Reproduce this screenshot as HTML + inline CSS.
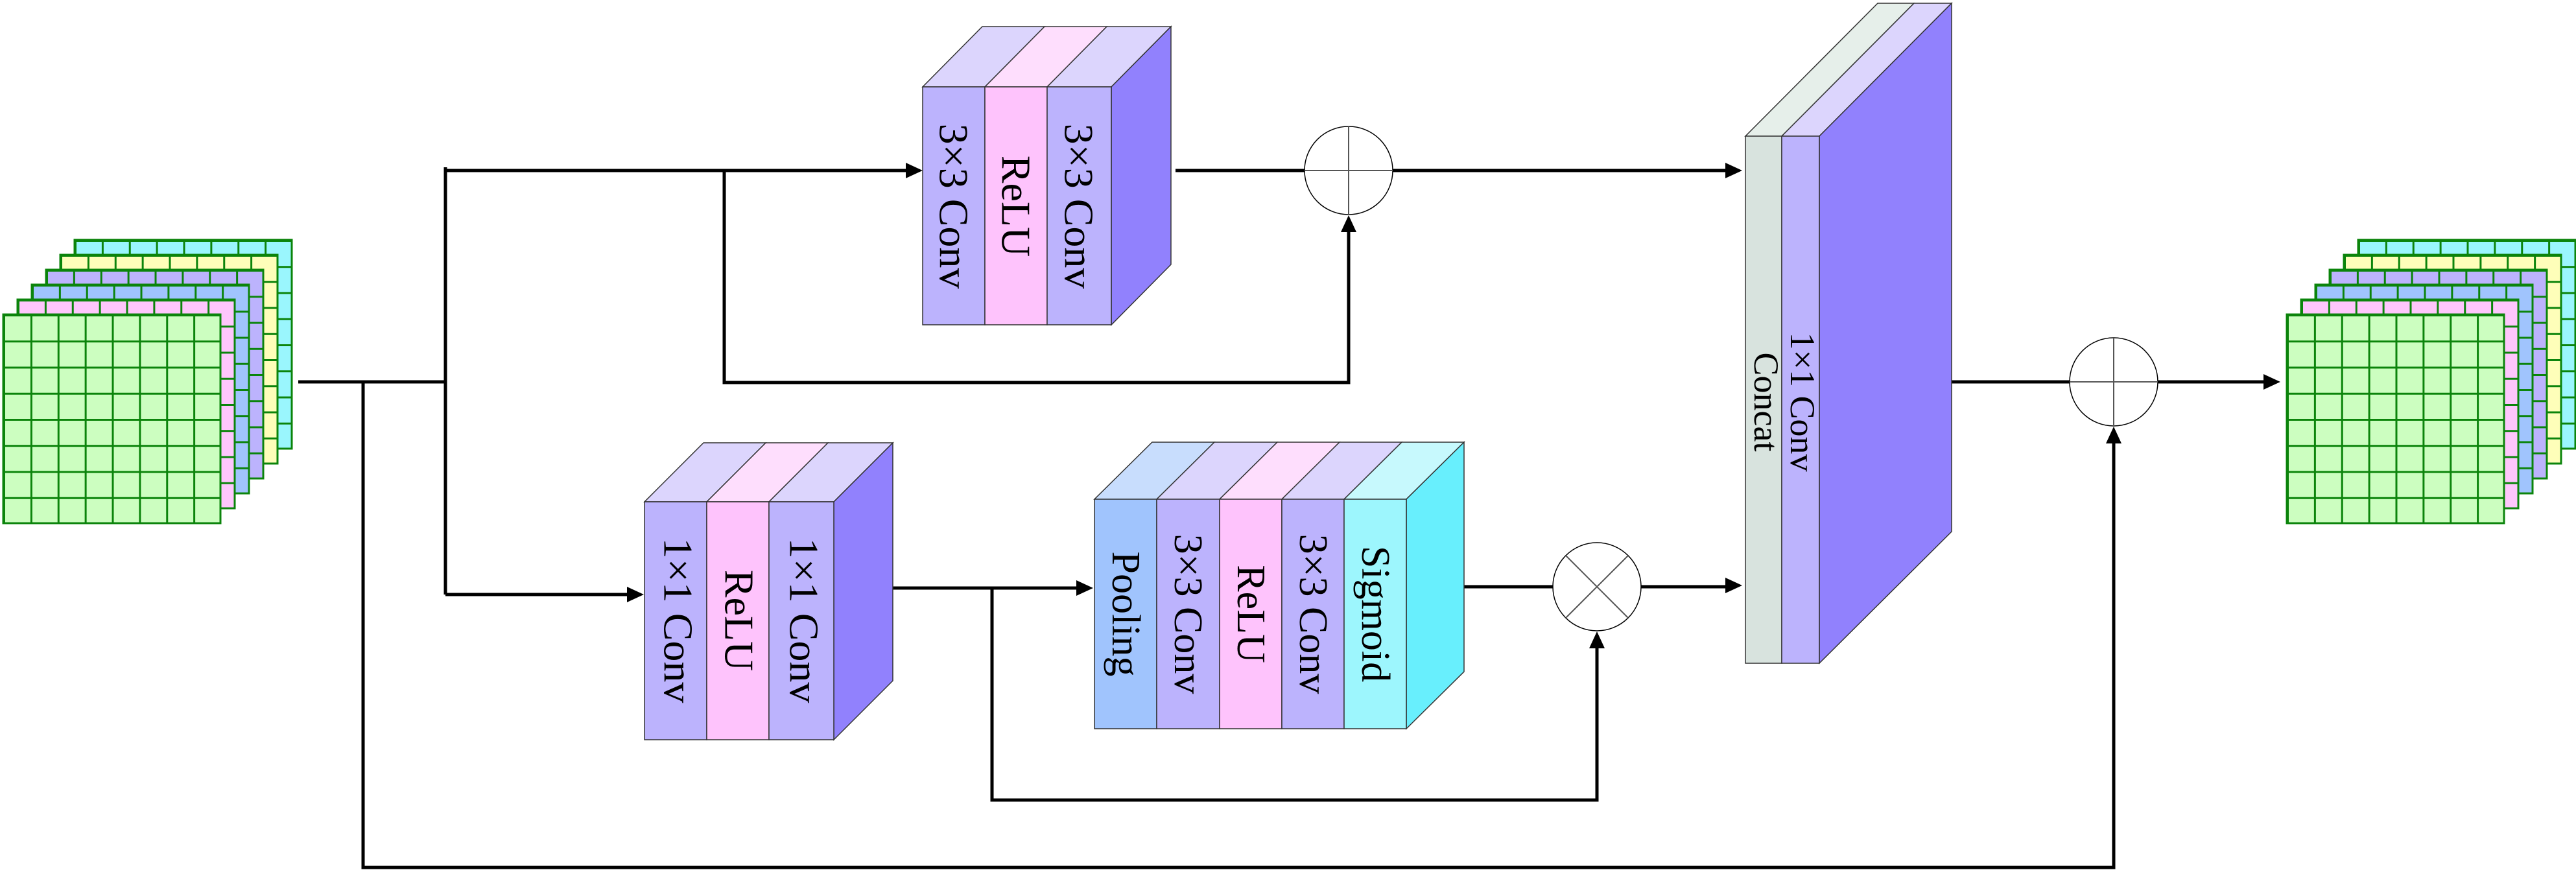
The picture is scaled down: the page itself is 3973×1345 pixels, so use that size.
<!DOCTYPE html>
<html><head><meta charset="utf-8"><style>html,body{margin:0;padding:0;background:#fff}svg{display:block}</style></head>
<body>
<svg width="3973" height="1345" viewBox="0 0 3973 1345" xmlns="http://www.w3.org/2000/svg" font-family="'Liberation Serif', serif">
<defs>
<pattern id="gr" width="41.875" height="40.25" patternUnits="userSpaceOnUse"><path d="M0 0H41.875M0 0V40.25" stroke="#0b840b" stroke-width="6" fill="none"/></pattern>
<g id="stack">
 <g transform="translate(110,-115)"><rect width="335" height="322" fill="#9af6fd"/><rect width="335" height="322" fill="url(#gr)"/><rect width="335" height="322" fill="none" stroke="#0b840b" stroke-width="3"/></g>
 <g transform="translate(88,-92)"><rect width="335" height="322" fill="#fefeb9"/><rect width="335" height="322" fill="url(#gr)"/><rect width="335" height="322" fill="none" stroke="#0b840b" stroke-width="3"/></g>
 <g transform="translate(66,-69)"><rect width="335" height="322" fill="#bcb3fd"/><rect width="335" height="322" fill="url(#gr)"/><rect width="335" height="322" fill="none" stroke="#0b840b" stroke-width="3"/></g>
 <g transform="translate(44,-46)"><rect width="335" height="322" fill="#a0c4fd"/><rect width="335" height="322" fill="url(#gr)"/><rect width="335" height="322" fill="none" stroke="#0b840b" stroke-width="3"/></g>
 <g transform="translate(22,-23)"><rect width="335" height="322" fill="#fec6fc"/><rect width="335" height="322" fill="url(#gr)"/><rect width="335" height="322" fill="none" stroke="#0b840b" stroke-width="3"/></g>
 <g><rect width="335" height="322" fill="#ccfec0"/><rect width="335" height="322" fill="url(#gr)"/><rect width="335" height="322" fill="none" stroke="#0b840b" stroke-width="3"/></g>
</g>
</defs>

<use href="#stack" x="5" y="485"/>
<use href="#stack" x="3527" y="485"/>

<!-- connectors -->
<g stroke="#000" stroke-width="5" fill="none">
 <path d="M460 589H687M687 258V917M560 589V1338H3260V680"/>
 <path d="M687 263H1400M687 917H970"/>
 <path d="M1117 263V590H2080V355"/>
 <path d="M1813 263H2012M2148 263H2662"/>
 <path d="M1377 907H1660M1530 907V1234H2463V997"/>
 <path d="M2258 905H2395M2531 905H2662"/>
 <path d="M3010 589H3192M3328 589H3492"/>
</g>
<g fill="#000">
 <polygon points="1423,263 1397,251 1397,275"/>
 <polygon points="993,917 967,905 967,929"/>
 <polygon points="2080,332 2068,358 2092,358"/>
 <polygon points="2687,263 2661,251 2661,275"/>
 <polygon points="1686,907 1660,895 1660,919"/>
 <polygon points="2463,974 2451,1000 2475,1000"/>
 <polygon points="2687,903 2661,891 2661,915"/>
 <polygon points="3260,658 3248,684 3272,684"/>
 <polygon points="3517,589 3491,577 3491,601"/>
</g>

<!-- circles -->
<g stroke="#000" stroke-width="1.5" fill="#fff">
 <circle cx="2080" cy="263" r="68"/>
 <circle cx="2463" cy="905" r="68"/>
 <circle cx="3260" cy="589" r="68"/>
</g>
<g stroke="#555" stroke-width="2">
 <path d="M2012 263H2148M2080 195V331"/>
 <path d="M3192 589H3328M3260 521V657"/>
 <path d="M2415 857L2511 953M2511 857L2415 953"/>
</g>

<!-- top block -->
<g stroke="#333" stroke-width="1.5">
 <polygon points="1423,134 1519,134 1611,41 1515,41" fill="#dcd5fd"/>
 <polygon points="1519,134 1615,134 1707,41 1611,41" fill="#fedefd"/>
 <polygon points="1615,134 1714,134 1806,41 1707,41" fill="#dcd5fd"/>
 <polygon points="1714,134 1806,41 1806,408 1714,501" fill="#9181fd"/>
 <rect x="1423" y="134" width="96" height="367" fill="#bcb3fd"/>
 <rect x="1519" y="134" width="96" height="367" fill="#fec3fc"/>
 <rect x="1615" y="134" width="99" height="367" fill="#bcb3fd"/>
</g>
<g font-size="64" text-anchor="middle" dominant-baseline="central">
 <text transform="translate(1471,318) rotate(90)">3×3 Conv</text>
 <text transform="translate(1567,318) rotate(90)">ReLU</text>
 <text transform="translate(1664,318) rotate(90)">3×3 Conv</text>
</g>

<!-- lower block 1 -->
<g stroke="#333" stroke-width="1.5">
 <polygon points="994,774 1090,774 1181,683 1085,683" fill="#dcd5fd"/>
 <polygon points="1090,774 1186,774 1277,683 1181,683" fill="#fedefd"/>
 <polygon points="1186,774 1286,774 1377,683 1277,683" fill="#dcd5fd"/>
 <polygon points="1286,774 1377,683 1377,1050 1286,1141" fill="#9181fd"/>
 <rect x="994" y="774" width="96" height="367" fill="#bcb3fd"/>
 <rect x="1090" y="774" width="96" height="367" fill="#fec3fc"/>
 <rect x="1186" y="774" width="100" height="367" fill="#bcb3fd"/>
</g>
<g font-size="64" text-anchor="middle" dominant-baseline="central">
 <text transform="translate(1046,957) rotate(90)">1×1 Conv</text>
 <text transform="translate(1140,957) rotate(90)">ReLU</text>
 <text transform="translate(1240,957) rotate(90)">1×1 Conv</text>
</g>

<!-- pooling block -->
<g stroke="#333" stroke-width="1.5">
 <polygon points="1688,770 1784,770 1873,682 1777,682" fill="#c8ddfd"/>
 <polygon points="1784,770 1881,770 1970,682 1873,682" fill="#dcd5fd"/>
 <polygon points="1881,770 1977,770 2066,682 1970,682" fill="#fedefd"/>
 <polygon points="1977,770 2073,770 2162,682 2066,682" fill="#dcd5fd"/>
 <polygon points="2073,770 2169,770 2258,682 2162,682" fill="#c7f9fd"/>
 <polygon points="2169,770 2258,682 2258,1036 2169,1124" fill="#68effd"/>
 <rect x="1688" y="770" width="96" height="354" fill="#a0c4fd"/>
 <rect x="1784" y="770" width="97" height="354" fill="#bcb3fd"/>
 <rect x="1881" y="770" width="96" height="354" fill="#fec3fc"/>
 <rect x="1977" y="770" width="96" height="354" fill="#bcb3fd"/>
 <rect x="2073" y="770" width="96" height="354" fill="#9df6fd"/>
</g>
<g font-size="62" text-anchor="middle" dominant-baseline="central">
 <text transform="translate(1736,947) rotate(90)">Pooling</text>
 <text transform="translate(1832,947) rotate(90)">3×3 Conv</text>
 <text transform="translate(1929,947) rotate(90)">ReLU</text>
 <text transform="translate(2025,947) rotate(90)">3×3 Conv</text>
 <text transform="translate(2121,947) rotate(90)">Sigmoid</text>
</g>

<!-- concat block -->
<g stroke="#333" stroke-width="1.5">
 <polygon points="2692,210 2748,210 2952,5 2896,5" fill="#e6efea"/>
 <polygon points="2748,210 2806,210 3010,5 2952,5" fill="#dcd5fd"/>
 <polygon points="2806,210 3010,5 3010,820 2806,1023" fill="#9181fd"/>
 <rect x="2692" y="210" width="56" height="813" fill="#d8e3de"/>
 <rect x="2748" y="210" width="58" height="813" fill="#bcb3fd"/>
</g>
<g font-size="54" text-anchor="middle" dominant-baseline="central">
 <text transform="translate(2724,620) rotate(90)">Concat</text>
 <text transform="translate(2780,620) rotate(90)">1×1 Conv</text>
</g>
</svg>
</body></html>
